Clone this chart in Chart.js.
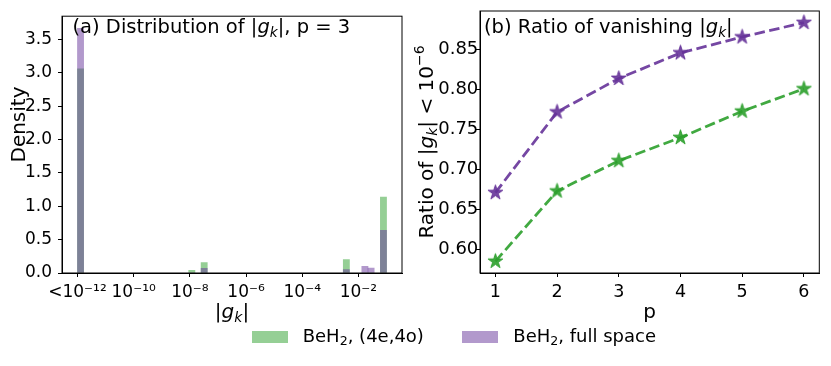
<!DOCTYPE html>
<html>
<head>
<meta charset="utf-8">
<script src="https://cdn.jsdelivr.net/npm/chart.js@4.4.1/dist/chart.umd.min.js"></script>
<style>
  body { margin: 0; background: #fff; }
  #wrap { position: relative; width: 831px; height: 366px; font-family: "DejaVu Sans"; }
  canvas { position: absolute; left: 0; top: 0; }
  .patch { position: absolute; width: 36px; height: 12.6px; }
  .legtxt { position: absolute; font-size: 18px; line-height: 18px; color: #000; white-space: nowrap; }
  .legtxt sub { font-size: 0.7em; vertical-align: -0.22em; line-height: 0; }
</style>
</head>
<body>
<div id="wrap">
  <canvas id="histChart" width="831" height="366"></canvas>
  <canvas id="ratioChart" width="831" height="366"></canvas>
  <div class="patch" style="left:251.7px; top:330.7px; background:rgba(44,160,44,0.5)"></div>
  <div class="legtxt" style="left:302.7px; top:326.8px">BeH<sub>2</sub>, (4e,4o)</div>
  <div class="patch" style="left:462.3px; top:330.7px; background:rgba(102,51,153,0.5)"></div>
  <div class="legtxt" style="left:513.3px; top:326.8px">BeH<sub>2</sub>, full space</div>
</div>
<script>
// (a) histogram of log10|g_k|, bin centres (bin width 0.22 decades)
const gkBins = [-11.89, -7.93, -7.49, -2.43, -1.77, -1.55, -1.11];
const densityActive = [3.06, 0.04, 0.155, 0.20, 0, 0, 1.14];
const densityFull = [3.67, 0, 0.07, 0.05, 0.10, 0.075, 0.64];
const gkTickValues = [-12, -10, -8, -6, -4, -2];
const gkTickLabels = ['<10⁻¹²', '10⁻¹⁰', '10⁻⁸', '10⁻⁶', '10⁻⁴', '10⁻²'];
const densityTicks = [0, 0.5, 1.0, 1.5, 2.0, 2.5, 3.0, 3.5];

// (b) ratio of vanishing gradients vs p
const pValues = [1, 2, 3, 4, 5, 6];
const ratioActive = [0.585, 0.673, 0.711, 0.740, 0.773, 0.801];
const ratioFull = [0.671, 0.772, 0.814, 0.846, 0.866, 0.884];
const ratioTicks = [0.60, 0.65, 0.70, 0.75, 0.80, 0.85];

const GREEN = 'rgba(44,160,44,0.9)';
const PURPLE = 'rgba(102,51,153,0.9)';
const FONT = 'DejaVu Sans';

Chart.defaults.font.family = FONT;
Chart.defaults.color = '#000';

// rich text: parts {t, it, sub, sup}
function drawRich(ctx, parts, x, y, size, align, rotate) {
  ctx.save();
  ctx.translate(x, y);
  if (rotate) ctx.rotate(-Math.PI / 2);
  const fontFor = p => (p.it ? 'italic ' : '') + ((p.sub || p.sup) ? size * 0.7 : size) + 'px "' + FONT + '"';
  let w = 0;
  parts.forEach(p => { ctx.font = fontFor(p); w += ctx.measureText(p.t).width; });
  let cx = align === 'center' ? -w / 2 : 0;
  ctx.textAlign = 'left';
  ctx.textBaseline = 'alphabetic';
  ctx.fillStyle = '#000';
  parts.forEach(p => {
    ctx.font = fontFor(p);
    const dy = p.sub ? size * 0.2 : (p.sup ? -size * 0.45 : 0);
    ctx.fillText(p.t, cx, dy);
    cx += ctx.measureText(p.t).width;
  });
  ctx.restore();
}

const GK = [{t: '|'}, {t: 'g', it: 1}, {t: 'k', it: 1, sub: 1}, {t: '|'}];

function framePlugin(texts) {
  return {
    id: 'frame',
    afterDraw(chart) {
      const {ctx, chartArea: a} = chart;
      ctx.save();
      ctx.strokeStyle = '#000';
      ctx.lineWidth = 1;
      ctx.strokeRect(a.left, a.top, a.right - a.left, a.bottom - a.top);
      ctx.restore();
      texts.forEach(t => drawRich(ctx, t.parts, t.x, t.y, t.size, t.align, t.rotate));
    }
  };
}

function tickGrid() {
  return { drawOnChartArea: false, drawTicks: true, tickLength: 4, color: '#000', lineWidth: 1 };
}

// star marker
function makeStar(color) {
  const c = document.createElement('canvas');
  c.width = 19; c.height = 19;
  const g = c.getContext('2d');
  const R = 7.8, r = R * 0.382;
  g.beginPath();
  for (let i = 0; i < 10; i++) {
    const rad = i % 2 ? r : R;
    const ang = -Math.PI / 2 + i * Math.PI / 5;
    g.lineTo(9.5 + rad * Math.cos(ang), 9.5 + rad * Math.sin(ang));
  }
  g.closePath();
  g.fillStyle = color;
  g.strokeStyle = color;
  g.lineWidth = 1;
  g.fill();
  g.stroke();
  return c;
}

new Chart(document.getElementById('histChart'), {
  type: 'bar',
  data: {
    datasets: [
      {
        label: 'BeH2, (4e,4o)',
        data: gkBins.map((x, i) => ({x: x, y: densityActive[i]})),
        backgroundColor: 'rgba(44,160,44,0.5)',
        order: 2
      },
      {
        label: 'BeH2, full space',
        data: gkBins.map((x, i) => ({x: x, y: densityFull[i]})),
        backgroundColor: 'rgba(102,51,153,0.5)',
        order: 1
      }
    ]
  },
  options: {
    responsive: false,
    animation: false,
    devicePixelRatio: 1,
    grouped: false,
    barPercentage: 1,
    categoryPercentage: 1,
    layout: { padding: { left: 0, right: 429, top: 11, bottom: 0 } },
    plugins: { legend: { display: false }, tooltip: { enabled: false } },
    scales: {
      x: {
        type: 'linear',
        min: -12.55,
        max: -0.45,
        offset: false,
        grid: Object.assign(tickGrid(), { offset: false }),
        border: { display: true, color: '#000' },
        afterBuildTicks: s => { s.ticks = gkTickValues.map(v => ({value: v})); },
        afterFit: s => { s.height = 93; },
        ticks: {
          autoSkip: false, maxRotation: 0, padding: 5,
          font: { size: 17 },
          callback: v => gkTickLabels[gkTickValues.indexOf(v)]
        }
      },
      y: {
        min: 0,
        max: 3.85,
        grid: tickGrid(),
        border: { display: true, color: '#000' },
        afterBuildTicks: s => { s.ticks = densityTicks.map(v => ({value: v})); },
        afterFit: s => { s.width = 62; },
        ticks: { padding: 6, font: { size: 17 }, callback: v => v.toFixed(1) }
      }
    }
  },
  plugins: [framePlugin([
    { parts: [{t: '(a) Distribution of '}].concat(GK, [{t: ', p = 3'}]), x: 72.5, y: 33, size: 19.5 },
    { parts: [{t: 'Density'}], x: 25, y: 124.5, size: 20, align: 'center', rotate: true },
    { parts: GK, x: 232, y: 318, size: 20, align: 'center' }
  ])]
});

new Chart(document.getElementById('ratioChart'), {
  type: 'line',
  data: {
    datasets: [
      {
        label: 'BeH2, (4e,4o)',
        data: pValues.map((x, i) => ({x: x, y: ratioActive[i]})),
        borderColor: GREEN,
        borderWidth: 2.8,
        borderDash: [10.5, 4.5],
        pointStyle: makeStar(GREEN),
        fill: false,
        tension: 0
      },
      {
        label: 'BeH2, full space',
        data: pValues.map((x, i) => ({x: x, y: ratioFull[i]})),
        borderColor: PURPLE,
        borderWidth: 2.8,
        borderDash: [10.5, 4.5],
        pointStyle: makeStar(PURPLE),
        fill: false,
        tension: 0
      }
    ]
  },
  options: {
    responsive: false,
    animation: false,
    devicePixelRatio: 1,
    layout: { padding: { left: 400, right: 11.7, top: 11, bottom: 0 } },
    plugins: { legend: { display: false }, tooltip: { enabled: false } },
    scales: {
      x: {
        type: 'linear',
        min: 0.75,
        max: 6.25,
        grid: tickGrid(),
        border: { display: true, color: '#000' },
        afterBuildTicks: s => { s.ticks = pValues.map(v => ({value: v})); },
        afterFit: s => { s.height = 93; },
        ticks: { autoSkip: false, maxRotation: 0, padding: 5, font: { size: 17.5 } }
      },
      y: {
        min: 0.5704,
        max: 0.8985,
        grid: tickGrid(),
        border: { display: true, color: '#000' },
        afterBuildTicks: s => { s.ticks = ratioTicks.map(v => ({value: v})); },
        afterFit: s => { s.width = 80; },
        ticks: { padding: -2.3, font: { size: 18 }, callback: v => v.toFixed(2) }
      }
    }
  },
  plugins: [framePlugin([
    { parts: [{t: '(b) Ratio of vanishing '}].concat(GK), x: 484, y: 33, size: 19.5 },
    { parts: [{t: 'Ratio of '}].concat(GK, [{t: ' < 10'}, {t: '−6', sup: 1}]), x: 432.5, y: 142, size: 20, align: 'center', rotate: true },
    { parts: [{t: 'p'}], x: 649.6, y: 318, size: 20, align: 'center' }
  ])]
});
</script>
</body>
</html>
